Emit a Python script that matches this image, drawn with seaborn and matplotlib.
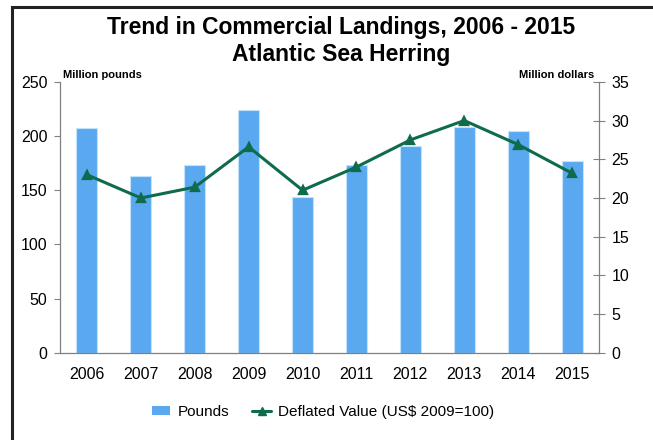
import matplotlib
matplotlib.use('Agg')
import matplotlib.pyplot as plt
import seaborn as sns
import pandas as pd
from matplotlib.patches import Patch, Rectangle
from matplotlib.lines import Line2D
from matplotlib.ticker import MultipleLocator, FixedLocator

# chart data
years = ['2006', '2007', '2008', '2009', '2010', '2011', '2012', '2013', '2014', '2015']
pounds = [207, 163, 173, 224, 144, 173, 191, 208, 205, 177]          # million pounds
deflated_value = [23.0, 20.0, 21.4, 26.6, 21.0, 24.0, 27.5, 30.0, 26.9, 23.2]  # million dollars

df = pd.DataFrame({'Year': years, 'Pounds': pounds, 'Value': deflated_value})

sns.set_style('white')
plt.rcParams['font.family'] = ['Liberation Sans', 'DejaVu Sans']
plt.rcParams['text.color'] = 'black'
plt.rcParams['xtick.color'] = 'black'
plt.rcParams['ytick.color'] = 'black'

bar_color = '#5AA9F0'
line_color = '#0E6B4C'

fig = plt.figure(figsize=(6.53, 4.40), dpi=100)
ax = fig.add_axes([0.0919, 0.198, 0.8254, 0.616])

sns.barplot(data=df, x='Year', y='Pounds', ax=ax, color=bar_color, saturation=1,
            width=0.39, edgecolor='#C4E2FC', linewidth=0.8)
ax.set_ylim(0, 250)
ax.set_xlim(-0.5, len(years) - 0.5)
ax.yaxis.set_major_locator(MultipleLocator(50))
ax.set_xlabel('')
ax.set_ylabel('')

ax2 = ax.twinx()
sns.pointplot(data=df, x='Year', y='Value', ax=ax2, color=line_color, markers='^',
              linestyles='-', linewidth=2.2, markersize=6)
ax2.set_ylim(0, 35)
ax2.yaxis.set_major_locator(MultipleLocator(5))
ax2.set_ylabel('')
ax2.set_xlabel('')
ax2.set_xlim(-0.5, len(years) - 0.5)

for a in (ax, ax2):
    a.spines['top'].set_visible(False)
    for s in a.spines.values():
        s.set_color('#808080')
        s.set_linewidth(0.9)
ax.spines['right'].set_visible(False)
ax2.spines['left'].set_visible(False)
ax2.spines['bottom'].set_visible(False)

ax.tick_params(axis='y', direction='out', length=4, color='#808080', labelsize=11.5, pad=5)
ax2.tick_params(axis='y', direction='inout', length=8, color='#808080', labelsize=11.5, pad=5)
ax.tick_params(axis='x', which='major', length=0, labelsize=11.5, pad=10)
ax.xaxis.set_minor_locator(FixedLocator([i - 0.5 for i in range(len(years) + 1)]))
ax.tick_params(axis='x', which='minor', direction='out', length=4, color='#808080')

# titles and axis unit labels
fig.text(0.522, 0.938, 'Trend in Commercial Landings, 2006 - 2015', ha='center', va='center',
         fontsize=16.5, fontweight='bold')
fig.text(0.522, 0.875, 'Atlantic Sea Herring', ha='center', va='center',
         fontsize=16.5, fontweight='bold')
fig.text(0.097, 0.830, 'Million pounds', ha='left', va='center', fontsize=8, fontweight='bold')
fig.text(0.910, 0.830, 'Million dollars', ha='right', va='center', fontsize=8, fontweight='bold')

handles = [Patch(facecolor=bar_color, edgecolor='none'),
           Line2D([], [], color=line_color, marker='^', linewidth=2.2, markersize=6)]
fig.legend(handles, ['Pounds', 'Deflated Value (US$ 2009=100)'], loc='center',
           bbox_to_anchor=(0.495, 0.064), ncol=2, frameon=False, fontsize=11,
           handlelength=1.2, handleheight=0.5, columnspacing=1.5, handletextpad=0.5)

# outer frame
fig.patches.append(Rectangle((0.019, -0.05), 1.2, 1.034, transform=fig.transFigure,
                             fill=False, edgecolor='#222222', linewidth=2.2))

fig.savefig('out.png', dpi=100)
